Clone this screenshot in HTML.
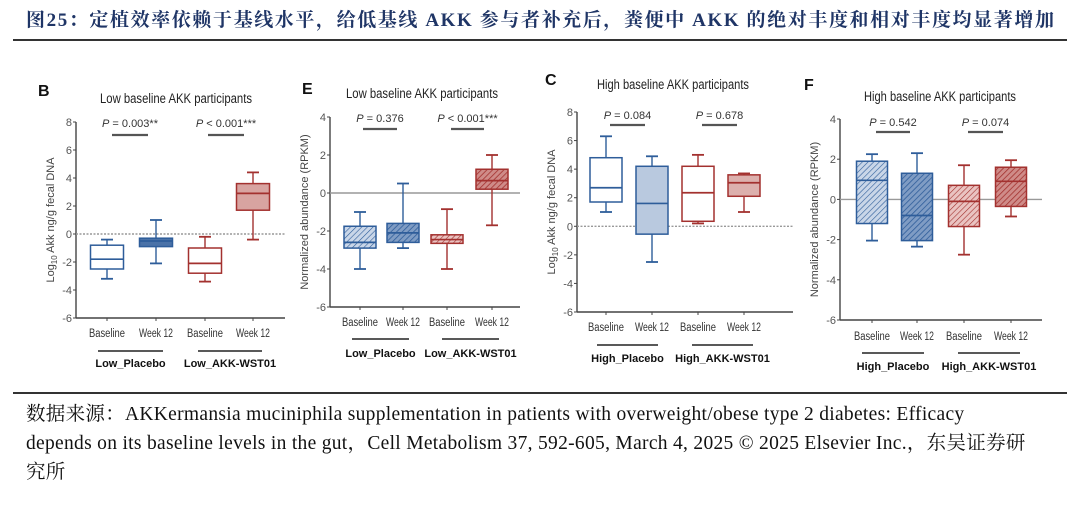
<!DOCTYPE html>
<html><head><meta charset="utf-8"><style>
body{margin:0;width:1080px;height:523px;background:#fff;overflow:hidden;position:relative;font-family:"Liberation Sans","Noto Sans CJK SC",sans-serif}
.hdr{position:absolute;left:26px;top:5px;font-family:"Liberation Serif","Noto Serif CJK SC",serif;font-weight:bold;font-size:19px;color:#1f3566;white-space:nowrap;letter-spacing:1.6px}
.rule{position:absolute;left:13px;width:1054px;background:#333}
.ft{position:absolute;left:26px;font-family:"Liberation Serif","Noto Serif CJK SC",serif;font-size:19.5px;color:#111;white-space:nowrap;letter-spacing:0.3px}
</style></head><body>
<div class="hdr">图25：定植效率依赖于基线水平，给低基线 AKK 参与者补充后，粪便中 AKK 的绝对丰度和相对丰度均显著增加</div>
<div class="rule" style="top:39px;height:2px"></div>
<div class="rule" style="top:392px;height:2px"></div>
<div class="ft" style="top:398px">数据来源：AKKermansia muciniphila supplementation in patients with overweight/obese type 2 diabetes: Efficacy</div>
<div class="ft" style="top:427px">depends on its baseline levels in the gut，Cell Metabolism 37, 592-605, March 4, 2025 © 2025 Elsevier Inc.，东吴证券研</div>
<div class="ft" style="top:456px">究所</div>
<svg id="chart" width="1080" height="523" style="position:absolute;left:0;top:0">
<defs>
<pattern id="hb" width="4" height="4" patternUnits="userSpaceOnUse" patternTransform="rotate(45)"><rect width="4" height="4" fill="#c9d6e8"/><line x1="0" y1="0" x2="0" y2="4" stroke="#2e5d9a" stroke-width="1.2"/></pattern>
<pattern id="hbd" width="4" height="4" patternUnits="userSpaceOnUse" patternTransform="rotate(45)"><rect width="4" height="4" fill="#7f9cc4"/><line x1="0" y1="0" x2="0" y2="4" stroke="#2e5d9a" stroke-width="1.6"/></pattern>
<pattern id="hr" width="4" height="4" patternUnits="userSpaceOnUse" patternTransform="rotate(45)"><rect width="4" height="4" fill="#eac3c1"/><line x1="0" y1="0" x2="0" y2="4" stroke="#a3312f" stroke-width="1.2"/></pattern>
<pattern id="hrd" width="4" height="4" patternUnits="userSpaceOnUse" patternTransform="rotate(45)"><rect width="4" height="4" fill="#cf8b88"/><line x1="0" y1="0" x2="0" y2="4" stroke="#a3312f" stroke-width="1.6"/></pattern>
</defs>
</svg>
<script>
// Data: per panel [min, Q1, median, Q3, max] for Baseline/Week12 Placebo, Baseline/Week12 AKK
const categories = ["Baseline","Week 12","Baseline","Week 12"];
const groups = ["Placebo","AKK-WST01"];
const boxesB = [[-3.2,-2.5,-1.8,-0.8,-0.4],[-2.1,-0.9,-0.5,-0.3,1.0],[-3.4,-2.8,-2.1,-1.0,-0.2],[-0.4,1.7,2.9,3.6,4.4]];
const boxesE = [[-4.0,-2.9,-2.6,-1.75,-1.0],[-2.9,-2.6,-2.1,-1.6,0.5],[-4.0,-2.65,-2.45,-2.2,-0.85],[-1.7,0.2,0.65,1.25,2.0]];
const boxesC = [[1.0,1.7,2.7,4.8,6.3],[-2.5,-0.55,1.6,4.2,4.9],[0.2,0.35,2.35,4.2,5.0],[1.0,2.1,3.05,3.6,3.7]];
const boxesF = [[-2.05,-1.2,0.95,1.9,2.25],[-2.35,-2.05,-0.8,1.3,2.3],[-2.75,-1.35,-0.1,0.7,1.7],[-0.85,-0.35,0.9,1.6,1.95]];
const ticksB = [8,6,4,2,0,-2,-4,-6];
const ticksE = [4,2,0,-2,-4,-6];
const pB = ["0.003**","< 0.001***"], pE = ["0.376","< 0.001***"], pC = ["0.084","0.678"], pF = ["0.542","0.074"];

const svg = document.getElementById('chart');
const NS = 'http://www.w3.org/2000/svg';
function mk(tag, attrs, parent){const e=document.createElementNS(NS,tag);for(const k in attrs)e.setAttribute(k,attrs[k]);(parent||svg).appendChild(e);return e;}
function txt(x,y,s,attrs,parent){const e=mk('text',Object.assign({x:x,y:y,'font-family':'Liberation Sans, sans-serif'},attrs),parent);e.textContent=s;return e;}

const panels = [
 {letter:"B",lx:38,ly:96,title:"Low baseline AKK participants",tx:176,ty:103,ax:76,yTop:122,yBot:318,vmax:8,vmin:-6,xEnd:285,cx:[107,156,205,253],bw:33,boxes:boxesB,ticks:ticksB,ytitle:"Log10 Akk ng/g fecal DNA",sub:true,dotted:true,
  fills:["none","#4a72a8","none","#d8a4a1"],p:pB,py:127,pbar:135,pbx:[[112,148],[208,244]],xly:337,gby:351,gbx:[[98,163],[198,262]],gly:367,prefix:"Low_"},
 {letter:"E",lx:302,ly:94,title:"Low baseline AKK participants",tx:422,ty:98,ax:330,yTop:117,yBot:307,vmax:4,vmin:-6,xEnd:520,cx:[360,403,447,492],bw:32,boxes:boxesE,ticks:ticksE,ytitle:"Normalized abundance (RPKM)",sub:false,dotted:false,
  fills:["url(#hb)","url(#hbd)","url(#hr)","url(#hrd)"],p:pE,py:122,pbar:129,pbx:[[363,397],[451,484]],xly:326,gby:339,gbx:[[352,409],[442,499]],gly:357,prefix:"Low_"},
 {letter:"C",lx:545,ly:85,title:"High baseline AKK participants",tx:673,ty:89,ax:577,yTop:112,yBot:312,vmax:8,vmin:-6,xEnd:793,cx:[606,652,698,744],bw:32,boxes:boxesC,ticks:ticksB,ytitle:"Log10 Akk ng/g fecal DNA",sub:true,dotted:true,
  fills:["none","#b9c9df","none","#dcb0ad"],p:pC,py:119,pbar:125,pbx:[[610,645],[702,737]],xly:331,gby:345,gbx:[[597,658],[692,753]],gly:362,prefix:"High_"},
 {letter:"F",lx:804,ly:90,title:"High baseline AKK participants",tx:940,ty:101,ax:840,yTop:119,yBot:320,vmax:4,vmin:-6,xEnd:1042,cx:[872,917,964,1011],bw:31,boxes:boxesF,ticks:ticksE,ytitle:"Normalized abundance (RPKM)",sub:false,dotted:false,
  fills:["url(#hb)","url(#hbd)","url(#hr)","url(#hrd)"],p:pF,py:126,pbar:132,pbx:[[876,910],[968,1003]],xly:340,gby:353,gbx:[[862,924],[958,1020]],gly:370,prefix:"High_"}
];
const cols=["#2e5d9a","#2e5d9a","#a3312f","#a3312f"];

panels.forEach((P,pi)=>{
  const g=mk('g',{});
  
  
  const y=v=>P.yTop+(P.vmax-v)*(P.yBot-P.yTop)/(P.vmax-P.vmin);
  const L=txt(P.lx,P.ly,P.letter,{'font-size':16,'font-weight':'bold',fill:'#111'},g);
   
  const T=txt(P.tx,P.ty,P.title,{'font-size':13.5,'text-anchor':'middle',fill:'#222',textLength:152,lengthAdjust:'spacingAndGlyphs'},g);
   
  const ya=mk('line',{x1:P.ax,y1:P.yTop,x2:P.ax,y2:P.yBot,stroke:'#444','stroke-width':1.4},g);
   
  const xa=mk('line',{x1:P.ax,y1:P.yBot,x2:P.xEnd,y2:P.yBot,stroke:'#444','stroke-width':1.4},g);
   
  P.ticks.forEach(t=>{
    mk('line',{x1:P.ax-3,y1:y(t),x2:P.ax,y2:y(t),stroke:'#444'},g);
    const tl=txt(P.ax-4,y(t)+4,String(t),{'font-size':11,'text-anchor':'end',fill:'#555'},g);
     
  });
  const my=(P.yTop+P.yBot)/2, mx=P.ax-22;
  const yt=mk('text',{x:mx,y:my,'font-size':11,'text-anchor':'middle',fill:'#444','font-family':'Liberation Sans, sans-serif',transform:`rotate(-90 ${mx} ${my})`},g);
   
  if(P.sub){yt.innerHTML='Log<tspan font-size="8" dy="3">10</tspan><tspan dy="-3"> Akk ng/g fecal DNA</tspan>';}
  else yt.textContent=P.ytitle;
  const z=mk('line',{x1:P.ax,y1:y(0),x2:P.xEnd,y2:y(0),stroke:'#999','stroke-width':1.4,'stroke-dasharray':P.dotted?'2,1.5':'none'},g);
   
  P.boxes.forEach((b,i)=>{
    const c=P.cx[i], h=P.bw/2, col=cols[i];
    const bg=mk('g',{},g);
    
    
    mk('line',{x1:c,y1:y(b[0]),x2:c,y2:y(b[4]),stroke:col,'stroke-width':1.4},bg);
    mk('line',{x1:c-6,y1:y(b[0]),x2:c+6,y2:y(b[0]),stroke:col,'stroke-width':1.8},bg);
    mk('line',{x1:c-6,y1:y(b[4]),x2:c+6,y2:y(b[4]),stroke:col,'stroke-width':1.8},bg);
    mk('rect',{x:c-h,y:y(b[3]),width:P.bw,height:y(b[1])-y(b[3]),fill:P.fills[i]==='none'?'#fff':P.fills[i],stroke:col,'stroke-width':1.5},bg);
    mk('line',{x1:c-h,y1:y(b[2]),x2:c+h,y2:y(b[2]),stroke:col,'stroke-width':1.7},bg);
    mk('line',{x1:c,y1:P.yBot,x2:c,y2:P.yBot+3,stroke:'#444'},g);
    const xl=txt(c,P.xly,categories[i],{'font-size':11.5,'text-anchor':'middle',fill:'#333',textLength:(i%2?34:36),lengthAdjust:'spacingAndGlyphs'},g);
     
  });
  [0,1].forEach(k=>{
    const [a,bx]=P.pbx[k], m=(a+bx)/2;
    const pt=mk('text',{x:m,y:P.py,'font-size':11,'text-anchor':'middle',fill:'#333','font-family':'Liberation Sans, sans-serif'},g);
     
    pt.innerHTML='<tspan font-style="italic">P</tspan> '+(P.p[k].startsWith('<')?'':'= ')+P.p[k];
    const pl=mk('line',{x1:a,y1:P.pbar,x2:bx,y2:P.pbar,stroke:'#555','stroke-width':2.2},g);
     
    const [g1,g2]=P.gbx[k];
    const gb=mk('line',{x1:g1,y1:P.gby,x2:g2,y2:P.gby,stroke:'#222','stroke-width':1.6},g);
     
    const gl=txt((g1+g2)/2,P.gly,P.prefix+groups[k],{'font-size':11,'font-weight':'bold','text-anchor':'middle',fill:'#111'},g);
     
  });
});
</script>
</body></html>
